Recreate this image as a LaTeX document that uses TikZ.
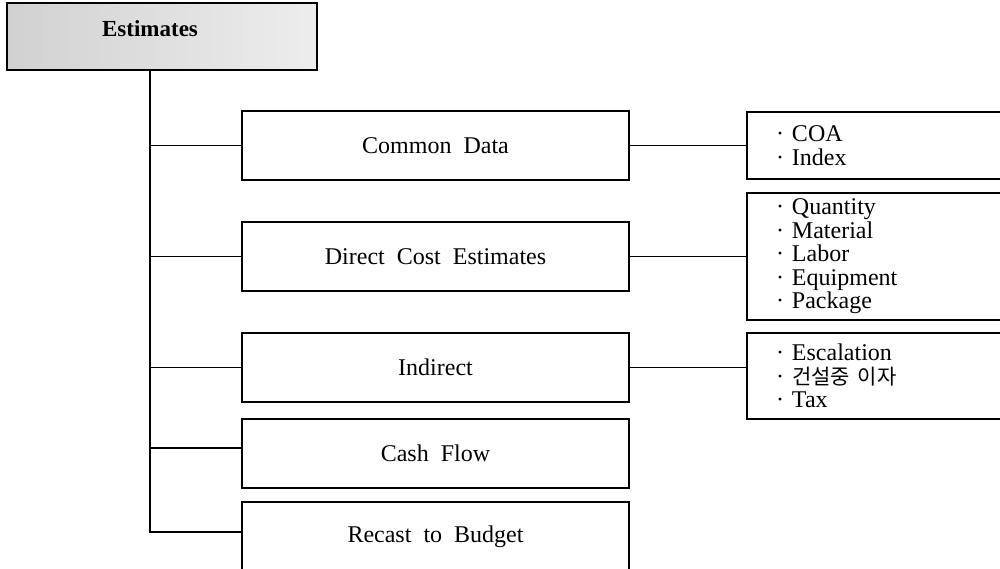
\documentclass[tikz,border=0pt]{standalone}
\usepackage{fontspec}
\setmainfont{Liberation Serif}
\newfontfamily\krfont{Noto Sans CJK KR}
\newcommand\wsp{\hspace{0.5em}}
\begin{document}
\begin{tikzpicture}[x=1pt,y=1pt,
  rootbox/.style={draw, line width=2.6pt, rectangle, inner sep=0pt, outer sep=0pt,
    minimum width=310pt, minimum height=67pt, left color=gray!36, right color=gray!14},
  box/.style={draw, line width=1.7pt, rectangle, inner sep=0pt, outer sep=0pt,
    minimum width=387pt, minimum height=69pt, font=\fontsize{24}{28}\selectfont},
  listbox/.style={draw, line width=1.7pt, rectangle, outer sep=0pt, inner xsep=29pt,
    inner ysep=0pt, text width=205pt, align=left, minimum width=263pt,
    font=\fontsize{24}{23.5}\selectfont},
  link/.style={line width=1.8pt}]
\useasboundingbox (0,0) rectangle (1000,-569);

% root
\node[rootbox] (est) at (162,-36.5) {};
\node[font=\bfseries\fontsize{23}{26}\selectfont, anchor=base] (esttxt) at (150,-37) {Estimates};

% main branches
\node[box] (cd)  at (435.5,-145.5) {Common\wsp Data};
\node[box] (dc)  at (435.5,-256.5) {Direct\wsp Cost\wsp Estimates};
\node[box] (ind) at (435.5,-367.5) {Indirect};
\node[box] (cf)  at (435.5,-453.5) {Cash\wsp Flow};
\node[box, minimum height=70pt] (rb) at (435.5,-537) {Recast\wsp to\wsp Budget};

% detail lists
\node[listbox, minimum height=67pt] (l1) at (878.5,-145.5) {·~COA\\·~Index};
\node[listbox, minimum height=127pt] (l2) at (878.5,-256.5)
  {·~Quantity\\·~Material\\·~Labor\\·~Equipment\\·~Package};
\node[listbox, minimum height=86pt] (l3) at (878.5,-376)
  {·~Escalation\\·~{\krfont\fontsize{21}{23.5}\selectfont 건설중 이자}\\·~Tax};

% trunk and branches
\coordinate (t0) at ([xshift=-12pt]est.south);
\draw[link] (t0) |- ([yshift=5pt]rb.west);
\draw[link] (t0 |- cd.west) -- (cd.west);
\draw[link] (t0 |- dc.west) -- (dc.west);
\draw[link] (t0 |- ind.west) -- (ind.west);
\draw[link] (t0 |- cf.west) ++(0,5.5) -- ([yshift=5.5pt]cf.west);

% links to lists
\draw[link] (cd.east) -- (cd.east -| l1.west);
\draw[link] (dc.east) -- (dc.east -| l2.west);
\draw[link] (ind.east) -- (ind.east -| l3.west);
\end{tikzpicture}
\end{document}
